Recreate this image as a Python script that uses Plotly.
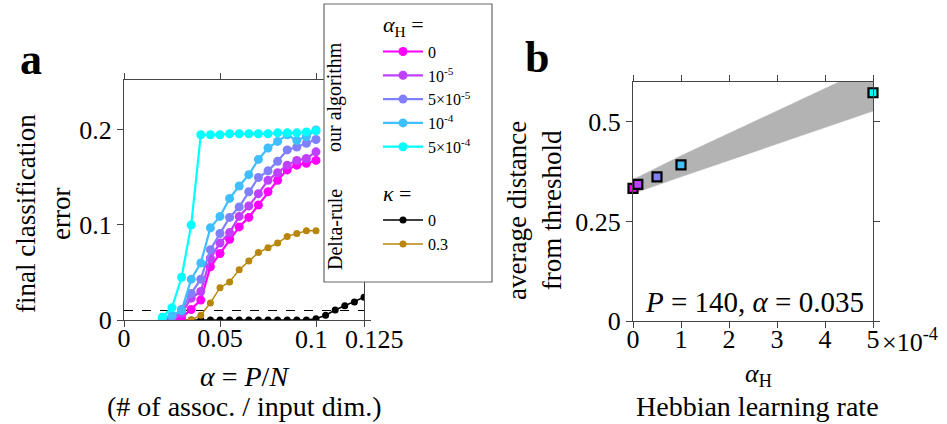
import plotly.graph_objects as go

# ---------------- data ----------------
alpha = [0.02, 0.025, 0.03, 0.035, 0.04, 0.045, 0.05, 0.055, 0.06, 0.065,
         0.07, 0.075, 0.08, 0.085, 0.09, 0.095, 0.1]
alpha_long = alpha + [0.105, 0.11, 0.115, 0.12, 0.125]

hebb_labels = ["0", "10<sup>-5</sup>", "5×10<sup>-5</sup>", "10<sup>-4</sup>", "5×10<sup>-4</sup>"]
err_h0 = [0.001, 0.001, 0.002, 0.011, 0.021, 0.056, 0.070, 0.085, 0.098, 0.108,
          0.121, 0.135, 0.147, 0.158, 0.163, 0.165, 0.168]
err_h1e5 = [0.002, 0.002, 0.007, 0.023, 0.030, 0.065, 0.081, 0.092, 0.109, 0.120,
            0.133, 0.147, 0.155, 0.163, 0.168, 0.170, 0.177]
err_h5e5 = [0.002, 0.003, 0.011, 0.028, 0.043, 0.074, 0.091, 0.108, 0.119, 0.135,
            0.150, 0.157, 0.167, 0.179, 0.182, 0.186, 0.190]
err_h1e4 = [0.002, 0.005, 0.010, 0.043, 0.060, 0.097, 0.109, 0.128, 0.141, 0.153,
            0.169, 0.181, 0.188, 0.195, 0.189, 0.193, 0.200]
err_h5e4 = [0.003, 0.013, 0.045, 0.100, 0.195, 0.195, 0.195, 0.196, 0.196, 0.196,
            0.196, 0.196, 0.197, 0.197, 0.197, 0.198, 0.199]
hebb_series = [err_h0, err_h1e5, err_h5e5, err_h1e4, err_h5e4]

kappa_labels = ["0", "0.3"]
err_k0 = [0, 0, 0, 0, 0, 0, 0, 0, 0, 0, 0, 0, 0, 0, 0, 0, 0.0014,
          0.005, 0.0105, 0.015, 0.019, 0.024]
err_k03 = [0, 0, 0, 0, 0.005, 0.018, 0.034, 0.040, 0.053, 0.062, 0.071, 0.076,
           0.081, 0.088, 0.091, 0.094, 0.094]
threshold = 0.01

alphaH = [0, 1e-5, 5e-5, 1e-4, 5e-4]
dist = [0.333, 0.343, 0.362, 0.392, 0.573]
band_upper = [0.356, 0.361, 0.385, 0.415, 0.64]
band_lower = [0.320, 0.325, 0.342, 0.362, 0.527]

left_xticks = [0, 0.05, 0.1, 0.125]
left_xticklabels = ["0", "0.05", "0.1", "0.125"]
left_yticks = [0, 0.1, 0.2]
left_yticklabels = ["0", "0.1", "0.2"]
right_xticks = [0, 1e-4, 2e-4, 3e-4, 4e-4, 5e-4]
right_xticklabels = ["0", "1", "2", "3", "4", "5"]
right_yticks = [0, 0.25, 0.5]
right_yticklabels = ["0", "0.25", "0.5"]

# ---------------- style ----------------
W, H = 947, 424
FONT = "Liberation Serif"
hebb_colors = ["#ff00ff", "#bf40ff", "#8080ff", "#40bfff", "#00ffff"]
kappa_colors = ["#000000", "#b8860b"]
AXC = "#444444"


def px(x):
    return x / W


def py(y):
    return 1 - y / H


fig = go.Figure()

# dashed threshold
fig.add_trace(go.Scatter(x=[0, alpha_long[-1]], y=[threshold, threshold], mode="lines",
                         line=dict(color="black", width=1.2, dash="dash"),
                         showlegend=False, hoverinfo="skip", xaxis="x", yaxis="y"))

# delta-rule curves (drawn below)
fig.add_trace(go.Scatter(x=alpha_long, y=err_k0, mode="lines+markers", name=kappa_labels[0],
                         line=dict(color=kappa_colors[0], width=1.5),
                         marker=dict(size=7, color=kappa_colors[0]),
                         legendgroup="kappa", legendrank=6,
                         legendgrouptitle=dict(text="<i>κ</i> =", font=dict(family=FONT, size=22)),
                         xaxis="x", yaxis="y"))
fig.add_trace(go.Scatter(x=alpha, y=err_k03, mode="lines+markers", name=kappa_labels[1],
                         line=dict(color=kappa_colors[1], width=1.5),
                         marker=dict(size=7, color=kappa_colors[1]),
                         legendgroup="kappa", legendrank=7,
                         xaxis="x", yaxis="y"))

for i, (lab, ys, c) in enumerate(zip(hebb_labels, hebb_series, hebb_colors)):
    kw = {}
    if i == 0:
        kw["legendgrouptitle"] = dict(text="<i>α</i><sub>H</sub> =", font=dict(family=FONT, size=22))
    fig.add_trace(go.Scatter(x=alpha, y=ys, mode="lines+markers", name=lab,
                             line=dict(color=c, width=2.2),
                             marker=dict(size=9, color=c),
                             legendgroup="hebb", legendrank=i + 1,
                             xaxis="x", yaxis="y", **kw))

# right panel band
fig.add_trace(go.Scatter(x=alphaH + alphaH[::-1], y=band_upper + band_lower[::-1],
                         mode="lines", fill="toself", fillcolor="#b3b3b3",
                         line=dict(color="#b3b3b3", width=0.5),
                         showlegend=False, hoverinfo="skip", xaxis="x2", yaxis="y2"))
fig.add_trace(go.Scatter(x=alphaH, y=dist, mode="markers",
                         marker=dict(symbol="square", size=9, color=hebb_colors,
                                     line=dict(color="black", width=2.2)),
                         cliponaxis=False, showlegend=False, xaxis="x2", yaxis="y2"))

axis_common = dict(showline=True, linecolor=AXC, linewidth=1, mirror="allticks",
                   ticks="outside", ticklen=6, tickcolor=AXC, showgrid=False,
                   zeroline=False, automargin=False, tickangle=0,
                   tickfont=dict(family=FONT, size=26, color="black"))

# the two crowded labels on the left x axis are nudged apart (as in the reference)
left_xticktext = [t if v < 0.1 else "" for v, t in zip(left_xticks, left_xticklabels)]

fig.update_layout(
    width=W, height=H, autosize=False,
    margin=dict(l=0, r=0, t=0, b=0, autoexpand=False),
    paper_bgcolor="white", plot_bgcolor="white",
    font=dict(family=FONT, color="black"),
    xaxis=dict(domain=[px(124), px(364)], range=[0, 0.125], anchor="y",
               tickvals=left_xticks, ticktext=left_xticktext, ticklabelstandoff=-11,
               **axis_common),
    yaxis=dict(domain=[1 - 320 / H, 1 - 80 / H], range=[0, 0.2526], anchor="x",
               tickvals=left_yticks, ticktext=left_yticklabels, **axis_common),
    xaxis2=dict(domain=[px(633), px(873)], range=[0, 5e-4], anchor="y2",
                tickvals=right_xticks, ticktext=right_xticklabels, ticklabelstandoff=-11,
                **axis_common),
    yaxis2=dict(domain=[1 - 321 / H, 1 - 82 / H], range=[0, 0.6], anchor="x2",
                tickvals=right_yticks, ticktext=right_yticklabels, **axis_common),
    legend=dict(x=px(378), y=py(3), xanchor="left", yanchor="top",
                bgcolor="rgba(0,0,0,0)", borderwidth=0,
                font=dict(family=FONT, size=16, color="black"),
                traceorder="grouped", tracegroupgap=18, itemwidth=40),
    showlegend=True,
)

for v, t in zip(left_xticks, left_xticklabels):
    if v >= 0.1:
        fig.add_annotation(text=t, x=v, xref="x", y=py(339), yref="paper",
                           xanchor="center", yanchor="middle", showarrow=False,
                           xshift=-5 if v == 0.1 else 10,
                           font=dict(family=FONT, size=26, color="black"))

# legend frame (covers the axes corner)
fig.add_shape(type="rect", xref="paper", yref="paper",
              x0=px(324), x1=px(492), y0=py(282), y1=py(4),
              line=dict(color="#666666", width=1.2), fillcolor="white", layer="above")

annots = [
    dict(text="our algorithm", x=px(335), y=py(97), textangle=-90, size=20),
    dict(text="Delta-rule", x=px(335), y=py(230), textangle=-90, size=20),
    dict(text="final classification<br>error", x=px(43), y=py(214), textangle=-90, size=27),
    dict(text="average distance<br>from threshold", x=px(534), y=py(211), textangle=-90, size=27),
    dict(text="<i>α</i> = <i>P</i>/<i>N</i>", x=px(244), y=py(376), size=28),
    dict(text="(# of assoc. / input dim.)", x=px(244), y=py(406), size=28),
    dict(text="<i>α</i><sub>H</sub>", x=px(758), y=py(375), size=26),
    dict(text="Hebbian learning rate", x=px(757), y=py(406), size=28),
    dict(text="<i>P</i> = 140, <i>α</i> = 0.035", x=px(754), y=py(302), size=29),
    dict(text="<b>a</b>", x=px(31), y=py(60), size=44),
    dict(text="<b>b</b>", x=px(537), y=py(57), size=44),
]
for a in annots:
    fig.add_annotation(text=a["text"], x=a["x"], y=a["y"], xref="paper", yref="paper",
                       xanchor="center", yanchor="middle", showarrow=False,
                       textangle=a.get("textangle", 0),
                       font=dict(family=FONT, size=a["size"], color="black"))

fig.add_annotation(text="×10<sup>-4</sup>", x=px(880), y=py(340), xref="paper", yref="paper",
                   xanchor="left", yanchor="middle", showarrow=False,
                   font=dict(family=FONT, size=26, color="black"))

fig.write_html("out.html")
